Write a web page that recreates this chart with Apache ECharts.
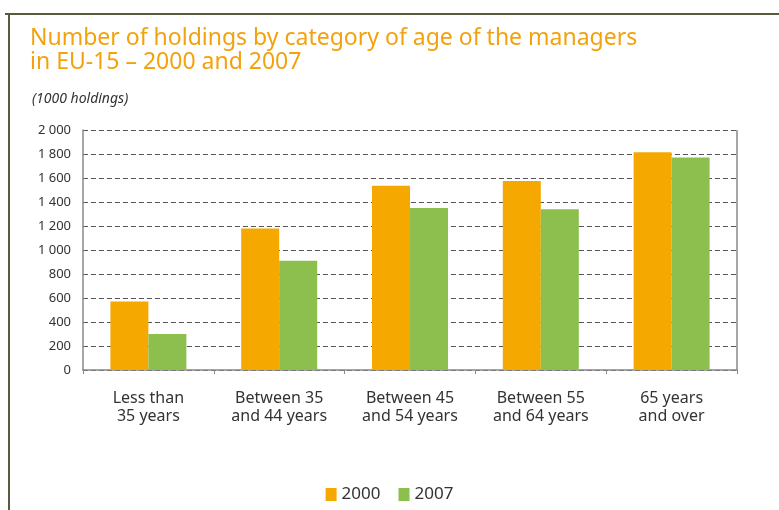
<!DOCTYPE html>
<html><head><meta charset="utf-8">
<script src="https://cdn.jsdelivr.net/npm/echarts@6/dist/echarts.min.js"></script>
<style>html,body{margin:0;padding:0;background:#fff}#c{width:779px;height:510px}</style>
</head><body><div id="c"></div>
<script>
const categories = ['Less than\n35 years', 'Between 35\nand 44 years', 'Between 45\nand 54 years', 'Between 55\nand 64 years', '65 years\nand over'];
const values2000 = [570, 1180, 1535, 1575, 1815];
const values2007 = [300, 910, 1350, 1340, 1770];
const seriesNames = ['2000', '2007'];
const yTicks = [0, 200, 400, 600, 800, 1000, 1200, 1400, 1600, 1800, 2000];

const chart = echarts.init(document.getElementById('c'));
const fmt = v => v >= 1000 ? Math.floor(v/1000) + ' ' + String(v%1000).padStart(3,'0') : String(v);
chart.setOption({
  animation: false,
  title: {
    text: 'Number of holdings by category of age of the managers\nin EU-15 \u2013 2000 and 2007',
    left: 25, top: 21,
    textStyle: {color: '#F2A20C', fontSize: 23, fontWeight: 'normal', fontFamily: 'Noto Sans', lineHeight: 24}
  },
  graphic: [
    {type: 'line', shape: {x1: 5, y1: 14, x2: 779, y2: 14}, style: {stroke: '#5b5a3e', lineWidth: 2}},
    {type: 'line', shape: {x1: 9, y1: 14, x2: 9, y2: 510}, style: {stroke: '#5b5a3e', lineWidth: 2}},
    {type: 'text', left: 32, top: 92, style: {text: '(1000 holdings)', fontStyle: 'italic', fontSize: 14, fontFamily: 'Noto Sans', fill: '#333'}},
    {type: 'line', shape: {x1: 737, y1: 130, x2: 737, y2: 370}, style: {stroke: '#888', lineWidth: 1.5}}
  ],
  legend: {
    data: seriesNames, bottom: 2, left: 'center', itemWidth: 11, itemHeight: 13, itemGap: 18,
    textStyle: {fontSize: 17, color: '#333', fontFamily: 'Noto Sans'}, icon: 'rect'
  },
  grid: {left: 83, right: 42, top: 130, bottom: 140},
  xAxis: {
    type: 'category', data: categories,
    axisLine: {lineStyle: {color: '#888', width: 1.5}},
    axisTick: {show: true, length: 4, lineStyle: {color: '#888'}},
    axisLabel: {color: '#333', fontSize: 16, fontFamily: 'Noto Sans', lineHeight: 18, margin: 19}
  },
  yAxis: {
    type: 'value', min: 0, max: 2000, interval: 200,
    axisLine: {show: true, lineStyle: {color: '#888', width: 1.5}},
    axisTick: {show: false},
    axisLabel: {color: '#333', fontSize: 13, fontFamily: 'Noto Sans', margin: 12, formatter: v => yTicks.includes(v) ? fmt(v) : ''},
    splitLine: {lineStyle: {color: '#555', type: [5, 3], width: 1}}
  },
  series: [
    {name: seriesNames[0], type: 'bar', data: values2000, barWidth: 38, barGap: '0%', itemStyle: {color: '#F5A800'}},
    {name: seriesNames[1], type: 'bar', data: values2007, barWidth: 38, itemStyle: {color: '#8CBF4E'}}
  ]
});
</script></body></html>
